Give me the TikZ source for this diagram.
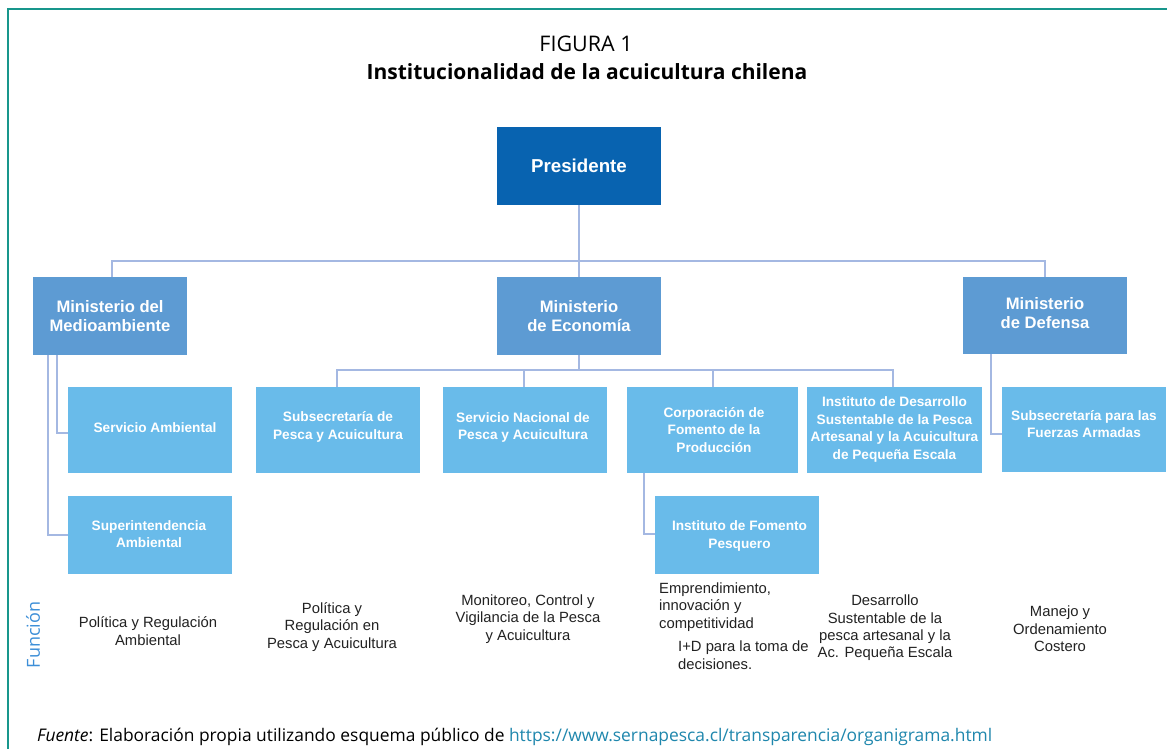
\documentclass[tikz,border=0pt]{standalone}
\usepackage{fontspec}
\setmainfont{Liberation Sans}
\newfontfamily\frut{Open Sans}
\definecolor{presblue}{HTML}{0863B0}
\definecolor{minblue}{HTML}{5D9BD3}
\definecolor{subblue}{HTML}{69BBEA}
\definecolor{conn}{HTML}{A4B8E2}
\definecolor{frame}{RGB}{24,150,140}
\definecolor{funcblue}{HTML}{3D8FD8}
\definecolor{urlcol}{HTML}{1F87AD}
\definecolor{functext}{HTML}{222222}
\tikzset{
  orgbox/.style={draw=none, inner sep=0pt, align=center, text=white},
  presbox/.style={orgbox, fill=presblue, minimum width=164, minimum height=78, font=\bfseries\fontsize{18.7}{21}\selectfont},
  minbox/.style={orgbox, fill=minblue, minimum height=78, font=\bfseries\fontsize{16.6}{19.5}\selectfont},
  subbox/.style={orgbox, fill=subblue},
  boxtext/.style={inner sep=0pt, align=center, text=white, font=\bfseries\fontsize{13.65}{17.5}\selectfont},
  link/.style={draw=conn, line width=2.3pt},
  functxt/.style={inner sep=0pt, text=functext, font=\fontsize{14.8}{17.4}\selectfont}
}
\begin{document}
\begin{tikzpicture}[x=1pt,y=-1pt]
\useasboundingbox (0,0) rectangle (1167,749);
\fill[white] (0,0) rectangle (1167,749);
\draw[frame, line width=1.6pt] (8,749) -- (8,9) -- (1167,9);

% titles
\node[anchor=base, inner sep=0pt, font=\frut\fontsize{21.5}{24}\selectfont] (fig) at (586,52) {FIGURA 1};
\node[anchor=base, inner sep=0pt, font=\frut\bfseries\fontsize{21}{24}\selectfont] (tit) at (587,80) {Institucionalidad de la acuicultura chilena};

% boxes
\node[presbox] (pres) at (579,166) {Presidente};
\node[minbox, minimum width=154] (minmed) at (110,316) {Ministerio del\\Medioambiente};
\node[minbox, minimum width=164] (mineco) at (579,316) {Ministerio\\de Econom\'ia};
\node[minbox, minimum width=164, minimum height=77] (mindef) at (1045,315.5) {};
\node[inner sep=0pt, align=center, text=white, font=\bfseries\fontsize{16.6}{19.5}\selectfont] (mindeft) at (1045,313) {Ministerio\\de Defensa};

\node[subbox, minimum width=164, minimum height=86] (servamb) at (150,430) {};
\node[boxtext] (servambt) at (155,428) {Servicio Ambiental};
\node[subbox, minimum width=164, minimum height=78] (superint) at (150,535) {};
\node[boxtext] (superintt) at (149,534) {Superintendencia\\Ambiental};
\node[subbox, minimum width=164, minimum height=86] (subpesca) at (338,430) {};
\node[boxtext] (subpescat) at (338,427) {Subsecretar\'ia de\\Pesca y Acuicultura};
\node[subbox, minimum width=164, minimum height=86] (sernap) at (525,430) {};
\node[boxtext] (sernapt) at (523,427.5) {Servicio Nacional de\\Pesca y Acuicultura};
\node[subbox, minimum width=171, minimum height=86] (corfo) at (712.5,430) {};
\node[boxtext] (corfot) at (714,430) {Corporaci\'on de\\Fomento de la\\Producci\'on};
\node[subbox, minimum width=175, minimum height=86] (ids) at (894.5,430) {};
\node[boxtext] (idst) at (894.5,429.5) {Instituto de Desarrollo\\Sustentable de la Pesca\\Artesanal y la Acuicultura\\de Peque\~na Escala};
\node[subbox, minimum width=164, minimum height=78] (ifop) at (737,535) {};
\node[boxtext] (ifopt) at (739.5,536) {Instituto de Fomento\\Pesquero};
\node[subbox, minimum width=164, minimum height=85] (subfa) at (1084,429.5) {};
\node[boxtext] (subfat) at (1084,424) {Subsecretar\'ia para las\\Fuerzas Armadas};

% connectors
\coordinate (topbus) at (579,261);
\coordinate (ecobus) at (579,370);
\draw[link] (pres.south) -- (mineco.north);
\draw[link] ([xshift=2pt]minmed.north) |- (topbus) -| (mindef.north);
\draw[link] (mineco.south) -- (ecobus);
\draw[link] ([xshift=-1pt]subpesca.north) |- (ecobus) -| ([xshift=-1.5pt]ids.north);
\draw[link] ([xshift=-1pt]sernap.north) -- ([xshift=-1pt]sernap.north |- ecobus);
\draw[link] ([xshift=0.5pt]corfo.north) -- ([xshift=0.5pt]corfo.north |- ecobus);
\draw[link] ([xshift=-53pt]minmed.south) |- ([yshift=-3pt]servamb.west);
\draw[link] ([xshift=-62pt]minmed.south) |- (superint.west);
\draw[link] ([xshift=-68.5pt]corfo.south) |- ([yshift=1pt]ifop.west);
\draw[link] ([xshift=-54pt]mindef.south) |- ([yshift=-4.5pt]subfa.west);

% function label
\node[rotate=90, inner sep=0pt, text=funcblue, font=\frut\fontsize{18}{20}\selectfont] (func) at (33,635) {Funci\'on};

% function texts
\node[functxt, align=center] (f1) at (148,631) {Pol\'itica y Regulaci\'on\\Ambiental};
\node[functxt, align=center] (f2) at (332,627) {Pol\'itica y\\Regulaci\'on en\\Pesca y Acuicultura};
\node[functxt, align=center] (f3) at (528,619) {Monitoreo, Control y\\Vigilancia de la Pesca\\y Acuicultura};
\node[functxt, align=left, anchor=north west] (f4) at (659,582.5) {Emprendimiento,\\innovaci\'on y\\competitividad};
\node[functxt, align=left, anchor=north west] (f5) at (678,641) {I+D para la toma de\\decisiones.};
\node[functxt, align=center] (f6) at (885,628) {Desarrollo\\Sustentable de la\\pesca artesanal y la\\Ac. Peque\~na Escala};
\node[functxt, align=center] (f7) at (1060,629) {Manejo y\\Ordenamiento\\Costero};

% source
\node[anchor=base west, inner sep=0pt, font=\frut\fontsize{17.4}{20}\selectfont] (src) at (37,741) {\textit{Fuente}: Elaboraci\'on propia utilizando esquema p\'ublico de \textcolor{urlcol}{https://www.sernapesca.cl/transparencia/organigrama.html}};
\end{tikzpicture}
\end{document}
